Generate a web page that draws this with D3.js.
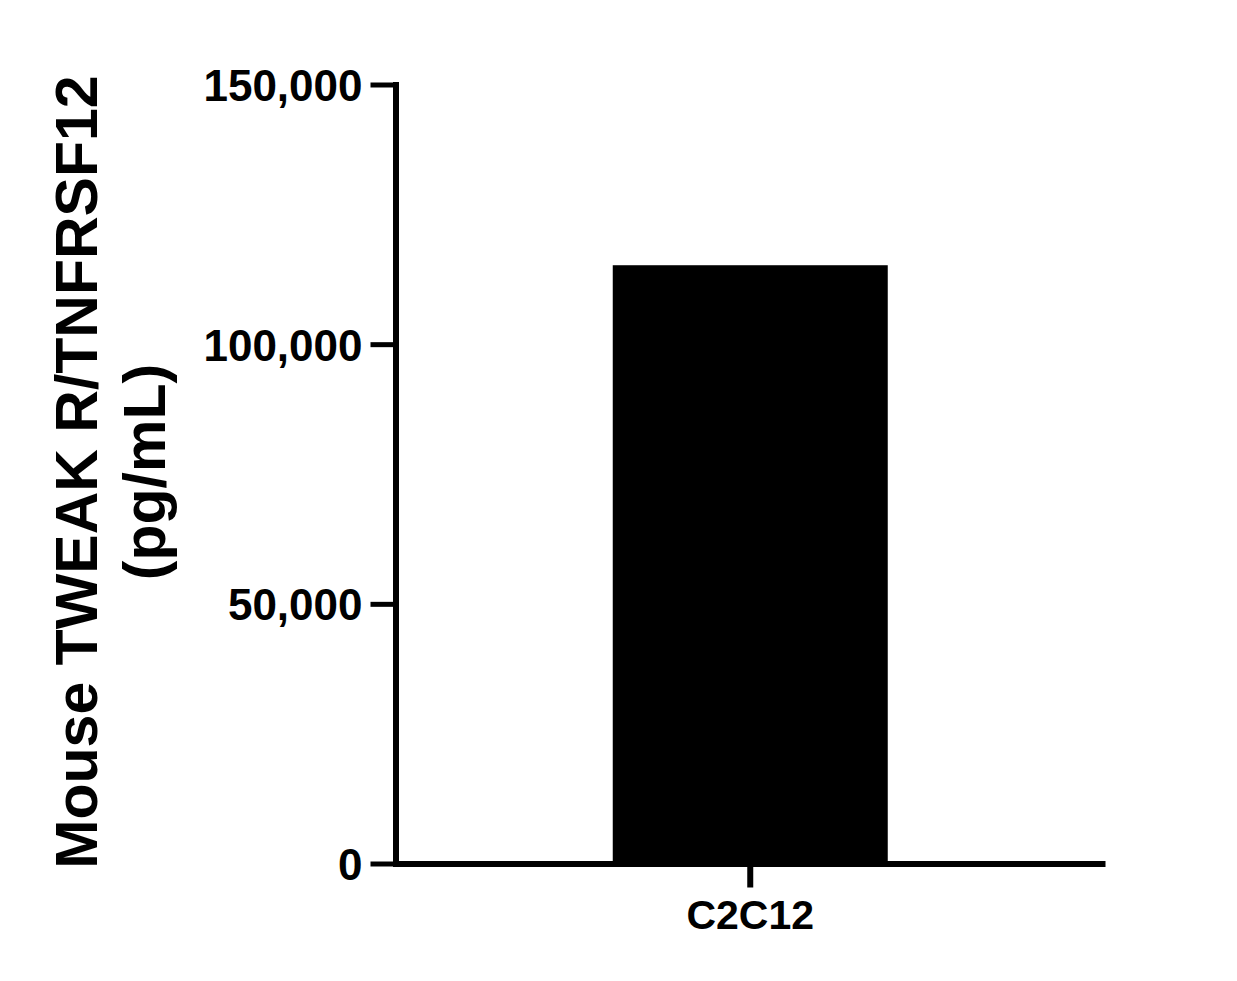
<!DOCTYPE html>
<html>
<head>
<meta charset="utf-8">
<script src="https://cdn.jsdelivr.net/npm/d3@7"></script>
<style>
  body { margin: 0; background: #fff; }
  text { font-family: "Liberation Sans", Arial, sans-serif; font-weight: bold; }
</style>
</head>
<body>
<div id="chart"></div>
<script>
// data
var categories = ["C2C12"];
var values = [115200];
var yTicks = [0, 50000, 100000, 150000];
var yTitle = ["Mouse TWEAK R/TNFRSF12", "(pg/mL)"];

function init() {
    var w = 1237;
    var h = 981;

    var svg = d3.select("#chart")
        .append("svg")
        .attr("width", w)
        .attr("height", h);

    // scales
    var y = d3.scaleLinear()
        .domain([0, 150000])
        .range([863.5, 84.5]);

    var x = d3.scaleBand()
        .domain(categories)
        .range([395.5, 1105])
        .paddingInner(0)
        .paddingOuter(0.79);

    // bars
    svg.selectAll("rect.bar")
        .data(values)
        .enter()
        .append("rect")
        .attr("class", "bar")
        .attr("x", function(d, i) { return x(categories[i]); })
        .attr("y", function(d) { return y(d); })
        .attr("width", x.bandwidth())
        .attr("height", function(d) { return y(0) - y(d); })
        .style("fill", "#000");

    // y axis
    var yAxis = d3.axisLeft(y)
        .tickValues(yTicks)
        .tickSize(25)
        .tickSizeOuter(0)
        .tickPadding(8)
        .tickFormat(d3.format(","));

    var gy = svg.append("g")
        .attr("transform", "translate(395.5,0)")
        .call(yAxis);
    gy.select(".domain").attr("stroke-width", 6).attr("stroke-linecap", "square");
    gy.selectAll(".tick line").attr("stroke-width", 5);
    gy.selectAll(".tick text")
        .attr("font-size", 44)
        .attr("dy", "0.36em")
        .attr("fill", "#000");

    // x axis
    var xAxis = d3.axisBottom(x)
        .tickSize(24)
        .tickSizeOuter(0)
        .tickPadding(12);

    var gx = svg.append("g")
        .attr("transform", "translate(0,863.5)")
        .call(xAxis);
    gx.select(".domain").attr("stroke-width", 6);
    gx.selectAll(".tick line").attr("stroke-width", 6);
    gx.selectAll(".tick text")
        .attr("font-size", 41)
        .attr("fill", "#000");

    // y title, two lines rotated
    var title = svg.append("text")
        .attr("transform", "translate(97,472) rotate(-90)")
        .attr("text-anchor", "middle")
        .attr("font-size", 59)
        .attr("fill", "#000");
    title.selectAll("tspan")
        .data(yTitle)
        .enter()
        .append("tspan")
        .attr("x", 0)
        .attr("dy", function(d, i) { return i === 0 ? 0 : 68; })
        .text(function(d) { return d; });
}

window.onload = init;
</script>
</body>
</html>
